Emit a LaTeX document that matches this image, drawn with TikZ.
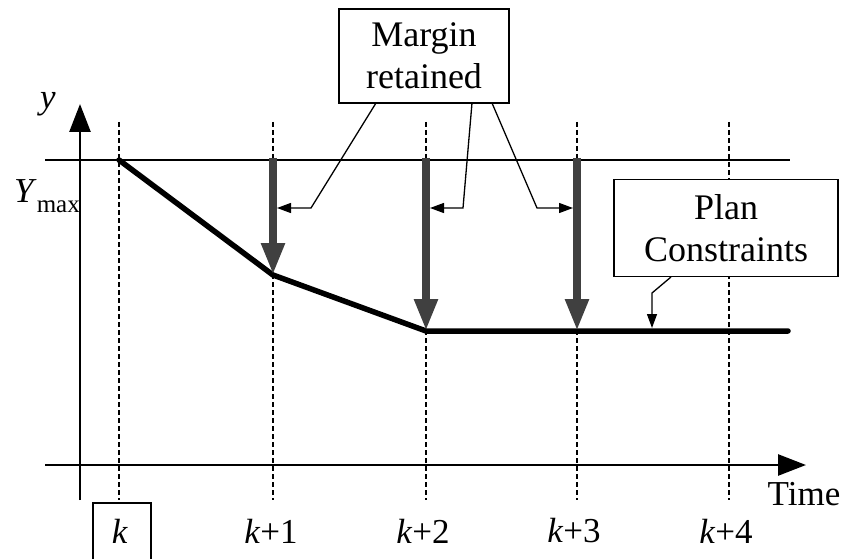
\documentclass[tikz,border=0pt]{standalone}
\usepackage{fontspec}
\setmainfont{Liberation Serif}
\usetikzlibrary{arrows.meta}
\definecolor{dgrey}{HTML}{404040}
\begin{document}
\begin{tikzpicture}[x=1pt,y=-1pt,
  lbl/.style={font=\fontsize{35}{37}\selectfont, inner sep=0pt},
  axis/.style={line width=2.6pt, -{Triangle[width=21pt,length=28pt]}},
  guide/.style={dashed, line width=1.1pt, dash pattern=on 5pt off 3pt},
  plan/.style={line width=5.5pt, line cap=round, line join=round},
  margin/.style={line width=8pt, dgrey, -{Triangle[width=22pt,length=32pt]}, shorten >=0pt},
  callout/.style={draw, line width=1.5pt, fill=white, align=center, font=\fontsize{36}{42}\selectfont, inner sep=0pt},
  lead/.style={line width=1.3pt, -{Triangle[width=10pt,length=14pt]}}
]
\useasboundingbox (0,0) rectangle (841,559);
% guide lines
\foreach \n/\x in {g0/119,g1/273,g2/426,g3/577,g4/729} {
  \coordinate (\n t) at (\x,122);
  \coordinate (\n b) at (\x,500);
}
\draw[guide] (g0t) -- (g0b);
\draw[guide] (g1t) -- (g1b);
\draw[guide] (g2t) -- (g2b);
\draw[guide] (g3t) -- (g3b);
\draw[guide] (g4t) -- (g4b);
% Ymax line
\coordinate (ymL) at (45,160);
\coordinate (ymR) at (790,160);
\draw[line width=1.4pt] (ymL) -- (ymR);
% axes
\coordinate (yb) at (80,500);
\coordinate (yt) at (80,104);
\draw[axis] (yb) -- (yt);
\coordinate (tl) at (45,465);
\coordinate (tr) at (806,465);
\draw[axis] (tl) -- (tr);
% plan
\coordinate (p0) at (119,160);
\coordinate (p1) at (273,275);
\coordinate (p2) at (426,331);
\coordinate (p3) at (788,331);
\draw[plan] (p0) -- (p1) -- (p2) -- (p3);
% margin arrows
\coordinate (m1) at (273,158);
\coordinate (m2) at (426,158);
\coordinate (m3) at (577,158);
\coordinate (m3e) at (577,331);
\draw[margin] (m1) -- (p1);
\draw[margin] (m2) -- (p2);
\draw[margin] (m3) -- (m3e);
% labels
\node[lbl, font=\fontsize{35}{37}\selectfont\itshape] (ylab) at (48,104) {y};
\node[lbl, anchor=east] (ymax) at (80,196) {\textit{Y}\raisebox{-10pt}{\fontsize{25}{25}\selectfont max}};
\node[lbl] (time) at (804,494) {Time};
\node[draw, line width=1.5pt, minimum width=58pt, minimum height=70pt, anchor=north west, inner sep=0pt] (kbox) at (92,502) {};
\node[lbl] (k0) at (120,531) {\textit{k}};
\node[lbl] (k1) at (271,531) {\textit{k}+1};
\node[lbl] (k2) at (423,531) {\textit{k}+2};
\node[lbl] (k3) at (574,531) {\textit{k}+3};
\node[lbl] (k4) at (726,531) {\textit{k}+4};
% callouts
\node[callout, minimum width=170pt, minimum height=94pt] (mbox) at (424,56) {Margin\\retained};
\node[callout, minimum width=224pt, minimum height=97pt] (pbox) at (726,228) {Plan\\Constraints};
% leaders
\coordinate (a1) at (376,103); \coordinate (c1) at (311,208); \coordinate (e1) at (277,208);
\coordinate (a2) at (472,103); \coordinate (c2) at (463,208); \coordinate (e2) at (430,208);
\coordinate (a3) at (492,103); \coordinate (c3) at (537,208); \coordinate (e3) at (573,208);
\draw[lead] (a1) -- (c1) -- (e1);
\draw[lead] (a2) -- (c2) -- (e2);
\draw[lead] (a3) -- (c3) -- (e3);
\coordinate (a4) at (671,277); \coordinate (c4) at (652,293); \coordinate (e4) at (652,328);
\draw[lead] (a4) -- (c4) -- (e4);
\end{tikzpicture}
\end{document}
